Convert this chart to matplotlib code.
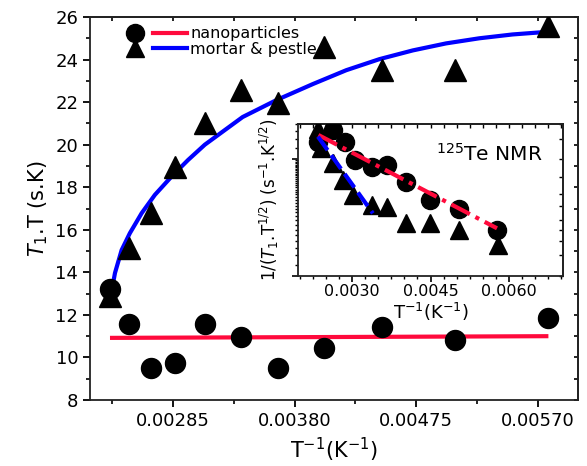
"""
125Te NMR relaxation: T1.T vs 1/T for nanoparticles and mortar & pestle samples,
with inset of 1/(T1.T^1/2) on log scale.
"""

import matplotlib
matplotlib.use("Agg")
import matplotlib.pyplot as plt
import numpy as np
from matplotlib.lines import Line2D
from matplotlib.legend_handler import HandlerTuple
from matplotlib.ticker import MultipleLocator, FormatStrFormatter, LogLocator, NullFormatter

RED  = "#ff0a3c"
BLUE = "#0000ff"

# =============================================================================
# Data
# =============================================================================

# main panel: T1.T (s.K) vs 1/T
inv_t       = [0.00236, 0.00251, 0.00268, 0.00287, 0.00310, 0.00338,
               0.00367, 0.00403, 0.00448, 0.00505, 0.00578]
t1t_nano    = [13.2, 11.57, 9.5, 9.74, 11.57, 10.96, 9.5, 10.45, 11.43, 10.82, 11.85]
t1t_mortar  = [12.9, 15.14, 16.8, 18.95, 21.0, 22.57, 21.96, 24.6, 23.5, 23.5, 25.6]

# fit lines as drawn
fit_nano_x   = [0.00236, 0.00578]
fit_nano_y   = [10.92, 11.0]
fit_mortar_x = [0.002360, 0.002399, 0.002451, 0.002515, 0.002607, 0.002710,
                0.002840, 0.002969, 0.003100, 0.003395, 0.003660, 0.003943,
                0.004203, 0.004462, 0.004722, 0.004982, 0.005241, 0.005500,
                0.005786]
fit_mortar_y = [12.70, 13.97, 15.05, 15.84, 16.78, 17.64, 18.50, 19.28,
                20.00, 21.30, 22.10, 22.85, 23.50, 24.02, 24.43, 24.76,
                25.00, 25.18, 25.31]

# inset: 1/(T1.T^1/2) vs 1/T (log y)
ins_x_nano   = [0.00235, 0.00264, 0.00287, 0.00306, 0.00338, 0.00367,
                0.00403, 0.00449, 0.00505, 0.00577]
ins_y_nano   = [1.41, 1.78, 1.41, 0.98, 0.862, 0.89, 0.641, 0.447, 0.374, 0.248]
ins_x_mortar = [0.00235, 0.00241, 0.00264, 0.00283, 0.00302, 0.00338,
                0.00367, 0.00403, 0.00449, 0.00505, 0.00579]
ins_y_mortar = [1.82, 1.25, 0.92, 0.66, 0.49, 0.405, 0.39, 0.282, 0.282, 0.248, 0.184]

ins_fit_nano_x   = [0.00236, 0.00577]
ins_fit_nano_y   = [1.61, 0.256]
ins_fit_mortar_x = [0.00235, 0.00340]
ins_fit_mortar_y = [1.56, 0.344]

# =============================================================================
# Figure
# =============================================================================

plt.rcParams["font.family"] = "DejaVu Sans"
plt.rcParams["axes.linewidth"] = 1.3
plt.rcParams["axes.edgecolor"] = "#222222"

fig = plt.figure(figsize=(5.87, 4.66), dpi=100)
ax = fig.add_axes([0.1533, 0.1416, 0.8314, 0.8219])

ax.plot(fit_nano_x, fit_nano_y, color=RED, lw=3, zorder=2, solid_capstyle="butt")
ax.plot(fit_mortar_x, fit_mortar_y, color=BLUE, lw=3, zorder=2)
ax.plot(inv_t, t1t_nano, "o", color="black", ms=14.4, zorder=3)
ax.plot(inv_t, t1t_mortar, "^", color="black", ms=16.5, zorder=3)

ax.set_xlim(0.002204, 0.006011)
ax.set_ylim(8, 26)
ax.xaxis.set_major_locator(MultipleLocator(0.00095))
ax.xaxis.set_minor_locator(MultipleLocator(0.000475))
ax.xaxis.set_major_formatter(FormatStrFormatter("%.5f"))
ax.yaxis.set_major_locator(MultipleLocator(2))
ax.yaxis.set_minor_locator(MultipleLocator(1))
ax.tick_params(which="major", direction="out", length=5, width=1.3, labelsize=13)
ax.tick_params(which="minor", direction="out", length=3, width=1.2)

secx = ax.secondary_xaxis("top")
secx.xaxis.set_major_locator(MultipleLocator(0.000475))
secx.tick_params(direction="in", length=3, width=1.2, labeltop=False)
secy = ax.secondary_yaxis("right")
secy.yaxis.set_major_locator(MultipleLocator(1))
secy.tick_params(direction="in", length=3, width=1.2, labelright=False)

ax.set_xlabel("T$^{-1}$(K$^{-1}$)", fontsize=15, labelpad=4)
ax.set_ylabel(r"$T_{\mathit{1}}$.T (s.K)", fontsize=15, labelpad=4)

h_nano = (Line2D([], [], marker="o", ls="none", color="black", ms=13),
          Line2D([], [], color=RED, lw=3))
h_mort = (Line2D([], [], marker="^", ls="none", color="black", ms=13),
          Line2D([], [], color=BLUE, lw=3))
ax.legend([h_nano, h_mort], ["nanoparticles", "mortar & pestle"],
          handler_map={tuple: HandlerTuple(ndivide=None, pad=0.1)},
          loc="upper left", bbox_to_anchor=(0.035, 1.005), frameon=False,
          fontsize=11.5, handlelength=4.3, handletextpad=0.2,
          labelspacing=0.05, borderpad=0.2)

# -----------------------------------------------------------------------------
# Inset
# -----------------------------------------------------------------------------

axi = fig.add_axes([0.5077, 0.4077, 0.4514, 0.3262])
axi.set_facecolor("white")
axi.plot(ins_fit_nano_x, ins_fit_nano_y, color=RED, lw=3, ls=(0, (5, 1.5, 1, 1.5)), zorder=4)
axi.plot(ins_fit_mortar_x, ins_fit_mortar_y, color=BLUE, lw=3, ls=(0, (4, 1.5)), zorder=4)
axi.plot(ins_x_nano, ins_y_nano, "o", color="black", ms=13, zorder=3)
axi.plot(ins_x_mortar, ins_y_mortar, "^", color="black", ms=13.5, zorder=3)

axi.set_yscale("log")
axi.set_ylim(0.1, 2.0)
axi.set_xlim(0.00197, 0.00703)
axi.xaxis.set_major_locator(MultipleLocator(0.0015))
axi.xaxis.set_minor_locator(MultipleLocator(0.00025))
axi.xaxis.set_major_formatter(FormatStrFormatter("%.4f"))
axi.yaxis.set_major_locator(LogLocator(base=10, subs=(1.0,)))
axi.yaxis.set_minor_locator(LogLocator(base=10, subs=np.arange(1, 10, 0.25)))
axi.yaxis.set_major_formatter(NullFormatter())
axi.yaxis.set_minor_formatter(NullFormatter())
axi.tick_params(which="major", direction="out", length=4, width=1.2, labelsize=11.5, pad=2)
axi.tick_params(which="minor", direction="out", length=2.5, width=1.0)

isecx = axi.secondary_xaxis("top")
isecx.xaxis.set_major_locator(MultipleLocator(0.00025))
isecx.tick_params(direction="in", length=3, width=1.0, labeltop=False)
isecy = axi.secondary_yaxis("right")
isecy.set_yscale("log")
isecy.yaxis.set_major_locator(LogLocator(base=10, subs=(1.0, 2.0, 3.0, 5.0)))
isecy.yaxis.set_minor_locator(LogLocator(base=10, subs=(1.5, 2.5, 4.0, 7.0)))
isecy.yaxis.set_major_formatter(NullFormatter())
isecy.yaxis.set_minor_formatter(NullFormatter())
isecy.tick_params(which="both", direction="in", length=3, width=1.0, labelright=False)

axi.set_xlabel("T$^{-1}$(K$^{-1}$)", fontsize=13, labelpad=1)
axi.set_ylabel(r"$1/(T_{\mathit{1}}$.T$^{1/2}$) (s$^{-1}$.K$^{1/2}$)", fontsize=12, labelpad=6)
axi.text(0.52, 0.76, "$^{125}$Te NMR", transform=axi.transAxes, fontsize=14.5)

fig.savefig("out.png", dpi=100)
